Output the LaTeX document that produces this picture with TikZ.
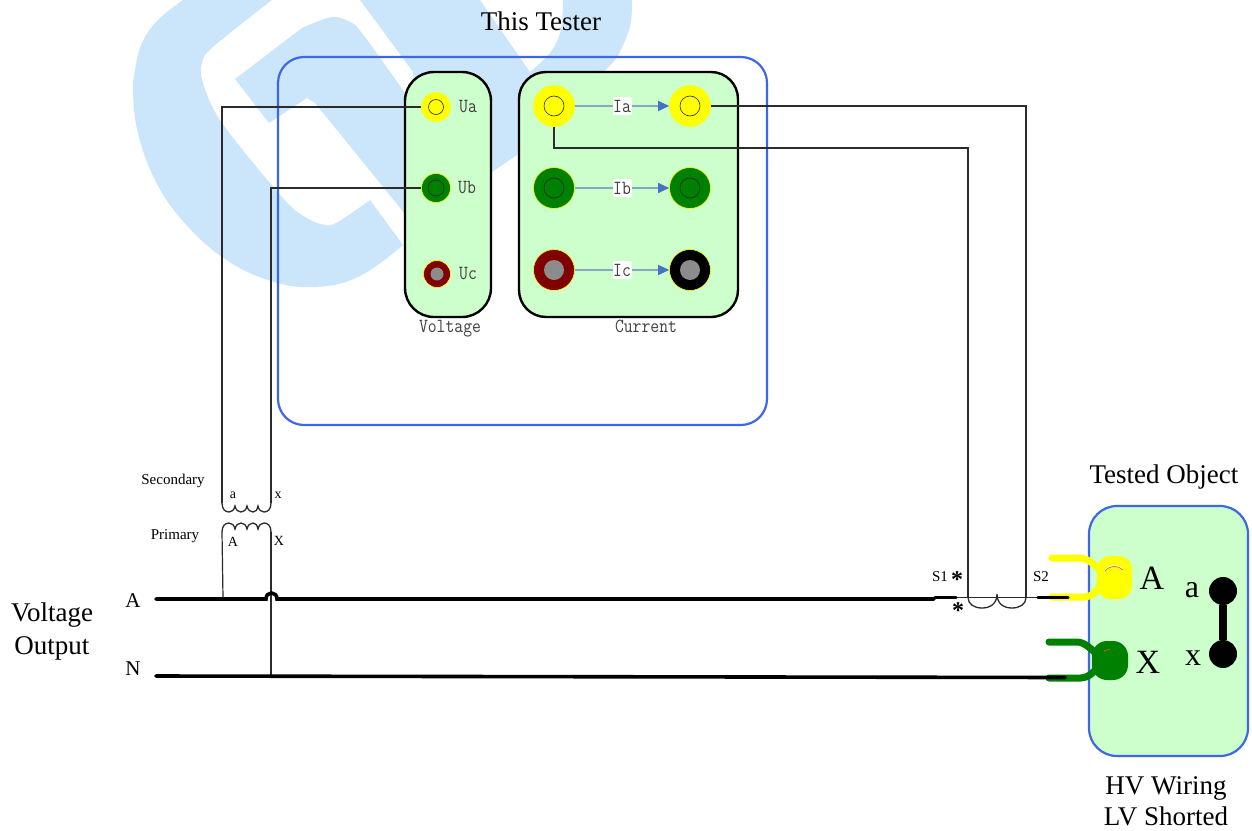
\documentclass[tikz,border=0pt]{standalone}
\usepackage{fontspec}
\setmainfont{Liberation Serif}
\newfontfamily\simfont[FakeStretch=.86]{Latin Modern Mono}
\usetikzlibrary{arrows.meta}
\newcommand{\fsz}[1]{\fontsize{#1}{#1}\selectfont}
\definecolor{wmblue}{HTML}{CBE6FB}
\definecolor{panel}{HTML}{CCFFCC}
\definecolor{edgeblue}{HTML}{3F66E6}
\definecolor{sigline}{HTML}{86A6CC}
\definecolor{sighead}{HTML}{4472C4}
\definecolor{darkred}{HTML}{800000}
\definecolor{jgreen}{HTML}{008000}
\definecolor{jyellow}{HTML}{FFFF00}
\definecolor{wirec}{HTML}{2B2B2B}
\tikzset{
  txt/.style={inner sep=0pt,font=\fsz{#1}},
  txt/.default=15,
  tt/.style={inner sep=0pt,text=black!75,font=\simfont\fsz{#1}},
  tt/.default=18,
  wire/.style={draw=wirec,line width=1.4pt},
  coil/.style={draw=wirec,line width=1.3pt},
  bus/.style={draw=black,line width=3.6pt,line cap=round},
  jack/.style={circle,inner sep=0pt,minimum size=#1,draw=jyellow,line width=.6pt},
  hole/.style={circle,inner sep=0pt,minimum size=#1,draw=black!85,line width=.6pt},
  plug/.style={circle,inner sep=0pt,minimum size=#1,fill=gray!90},
  sig/.style={draw=sigline,line width=1.2pt,-{Triangle[length=11pt,width=10pt,color=sighead]}},
  lab/.style={fill=white,inner sep=0pt,minimum width=19pt,minimum height=18pt,text=black!75,font=\simfont\fsz{20}},
  arm/.style={line width=7pt,line cap=round,line join=round},
}
\begin{document}
\begin{tikzpicture}[x=1pt,y=-1pt]
\useasboundingbox (0,0) rectangle (1252,830);
% watermark
\fill[wmblue] plot[smooth,tension=.7] coordinates {(183,0)(158,20)(142,43)(135,70)(133,93)(138,133)(155,180)(182,220)(222,257)(268,280)(312,287)(358,277)(403,245)}
  -- plot[smooth,tension=.55] coordinates {(370,200)(338,222)(325,225)(305,217)(282,197)(222,123)(203,83)(202,63)(213,47)(272,0)} -- cycle;
\fill[wmblue] (235,79) -- plot[smooth,tension=.55] coordinates {(302,28)(332,17)(352,23)(365,37)(405,93)}
  -- (415,100) -- (413,72) -- (360,0) -- (480,0) -- (530,72)
  -- plot[smooth,tension=.55] coordinates {(530,72)(550,53)(561,30)(563,0)}
  -- (632,0) -- plot[smooth,tension=.55] coordinates {(632,0)(630,27)(617,57)(603,72)}
  -- (600,100) -- (520,153) -- (417,223) -- (405,214) -- (315,103) -- (307,98) -- (269,123) -- cycle;
% panels
\node[txt=27] (ttlTester) at (541,21) {This Tester};
\draw[edgeblue,line width=2.2pt,rounded corners=26pt] (278,57) rectangle (767,425);
\draw[black,fill=panel,line width=2.4pt,rounded corners=29pt] (405,72) rectangle (491,317);
\draw[black,fill=panel,line width=2.4pt,rounded corners=27pt] (519,72) rectangle (738,317);
\node[tt=20] (lblVoltage) at (450,329) {Voltage};
\node[tt=20] (lblCurrent) at (646,326) {Current};
% voltage jacks
\node[jack=29pt,fill=jyellow] (jUa) at (436,107) {};
\node[hole=15pt] (hUa) at (436,107) {};
\node[jack=29pt,fill=jgreen] (jUb) at (436,188) {};
\node[hole=16pt] (hUb) at (436,188) {};
\node[jack=27pt,fill=darkred] (jUc) at (437,274) {};
\node[plug=13pt] (hUc) at (437,274) {};
\node[tt=20] (lUa) at (468,107) {Ua};
\node[tt=20] (lUb) at (467,188) {Ub};
\node[tt=20] (lUc) at (468,274) {Uc};
% current jacks
\node[jack=41pt,fill=jyellow] (jIa) at (554,106) {};
\node[hole=20pt] (hIa) at (554,106) {};
\node[jack=41pt,fill=jyellow] (jIaR) at (690,106) {};
\node[hole=20pt] (hIaR) at (690,106) {};
\node[jack=41pt,fill=jgreen] (jIb) at (554,188) {};
\node[hole=20pt] (hIb) at (554,188) {};
\node[jack=41pt,fill=jgreen] (jIbR) at (690,188) {};
\node[hole=20pt] (hIbR) at (690,188) {};
\node[jack=41pt,fill=darkred] (jIc) at (554,270) {};
\node[plug=20pt] (hIc) at (554,270) {};
\node[jack=41pt,fill=black] (jIcR) at (690,270) {};
\node[plug=20pt] (hIcR) at (690,270) {};
\draw[sig] (jIa) -- node[lab] {Ia} (jIaR);
\draw[sig] (jIb) -- node[lab] {Ib} (jIbR);
\draw[sig] (jIc) -- node[lab] {Ic} (jIcR);
% tested object
\node[txt=27] (ttlObject) at (1164,477) {Tested Object};
\draw[edgeblue,fill=panel,line width=2.2pt,rounded corners=28pt] (1089,506) rectangle (1248,756);
\node[txt=27] (ttlHV) at (1166,788) {HV Wiring};
\node[txt=27] (ttlLV) at (1166,816) {LV Shorted};
% clamps
\draw[jyellow,arm] (1052,558) -- (1080,558) .. controls (1088,558) and (1096,566) .. (1104,574);
\draw[jyellow,arm] (1052,597) -- (1085,597) .. controls (1092,597) and (1097,590) .. (1104,582);
\fill[jyellow,rounded corners=13pt] (1097,556) rectangle (1132,599);
\draw[white,line width=1pt] (1105,570) .. controls (1110,564) and (1118,564) .. (1123,569);
\draw[orange!80!red,line width=.7pt] (1105,571) .. controls (1110,565) and (1118,565) .. (1123,570);
\draw[jgreen,arm] (1049,642) -- (1077,642) .. controls (1085,642) and (1092,650) .. (1100,657);
\draw[jgreen,arm] (1049,678) -- (1081,678) .. controls (1088,678) and (1094,672) .. (1100,665);
\fill[jgreen,rounded corners=15pt] (1092,641) rectangle (1128,680);
\draw[orange!70!red,line width=.6pt] (1104,651) -- (1110,649);
\node[txt=34] (pA) at (1152,578) {A};
\node[txt=34] (pX) at (1148,662) {X};
\node[txt=32] (sa) at (1192,590) {a};
\node[txt=32] (sx) at (1193,658) {x};
\node[circle,fill=black,inner sep=0pt,minimum size=28pt] (da) at (1223,591) {};
\node[circle,fill=black,inner sep=0pt,minimum size=28pt] (dx) at (1223,654) {};
\draw[black,line width=8pt] (da) -- (dx);
% voltage output side
\node[txt=27] (lVolt) at (52,615) {Voltage};
\node[txt=27] (lOut) at (52,648) {Output};
\node[txt=21] (lA) at (133,601) {A};
\node[txt=21] (lN) at (133,669) {N};
% named points
\coordinate (secL) at (222,503);
\coordinate (secR) at (271,503);
\coordinate (priL) at (222,532);
\coordinate (priR) at (271,532);
\coordinate (tapA) at (223,598);
\coordinate (tapN) at (271,676);
\coordinate (busAstart) at (156,599);
\coordinate (hopL) at (266,599);
\coordinate (hopR) at (277,599);
\coordinate (busAend) at (934,599);
\coordinate (s1a) at (935,597.5);
\coordinate (s1b) at (956,597.5);
\coordinate (ctL) at (968,597.5);
\coordinate (ctR) at (1026,597.5);
\coordinate (s2a) at (1038,597.5);
\coordinate (s2b) at (1068,597.5);
\coordinate (bend) at (968,148);
\coordinate (busNstart) at (156,676);
\coordinate (busNend) at (1065,677.5);
% wires
\draw[wire] (jUa.west) -| (secL);
\draw[wire] (jUb.west) -| (secR);
\draw[wire] (jIaR.east) -| (ctR);
\draw[wire] (jIa.south) |- (bend) -- (ctL);
\draw[wire,line width=1.2pt] (priL) -- (tapA);
\draw[wire,line width=1.2pt] (priR) -- (tapN);
% VT coils
\draw[coil] (secL) .. controls (222,509) and (225,512) .. (229,512) .. controls (232,512) and (234,510) .. (235,506)
  .. controls (236,510) and (238,512) .. (241,512) .. controls (244,512) and (246,510) .. (247,506)
  .. controls (248,510) and (250,512) .. (253,512) .. controls (256,512) and (257,510) .. (258,506)
  .. controls (259,510) and (261,512) .. (264,512) .. controls (268,512) and (271,509) .. (secR);
\draw[coil] (priL) .. controls (222,526) and (225,523) .. (229,523) .. controls (232,523) and (234,525) .. (235,529)
  .. controls (236,525) and (238,523) .. (241,523) .. controls (244,523) and (246,525) .. (247,529)
  .. controls (248,525) and (250,523) .. (253,523) .. controls (256,523) and (257,525) .. (258,529)
  .. controls (259,525) and (261,523) .. (264,523) .. controls (268,523) and (271,526) .. (priR);
% CT coil
\draw[coil] (s1b) -- (s2a);
\draw[coil] (ctL) .. controls (968,604) and (974,608) .. (982,608) .. controls (990,608) and (997,604) .. (997,594)
  .. controls (997,604) and (1004,608) .. (1012,608) .. controls (1020,608) and (1026,604) .. (ctR);
% buses
\draw[bus] (busAstart) -- (hopL) .. controls (266,591) and (277,591) .. (hopR) -- (busAend);
\draw[bus,line width=3.4pt] (s1a) -- (s1b);
\draw[bus,line width=3.4pt] (s2a) -- (s2b);
\draw[bus] (busNstart) -- (busNend);
% labels at the transformers
\node[txt=15] (lSec) at (173,481) {Secondary};
\node[txt=15] (lPri) at (175,536) {Primary};
\node[txt=14] (la) at (233,495) {a};
\node[txt=14] (lx) at (278,495) {x};
\node[txt=14] (lAp) at (233,542) {A};
\node[txt=14] (lXp) at (279,541) {X};
\node[txt=15] (lS1) at (940,577) {S1};
\node[txt=15] (lS2) at (1041,577) {S2};
\node[txt=24,font=\bfseries\fsz{24}] (st1) at (957,580) {*};
\node[txt=24,font=\bfseries\fsz{24}] (st2) at (958,611) {*};
\end{tikzpicture}
\end{document}
